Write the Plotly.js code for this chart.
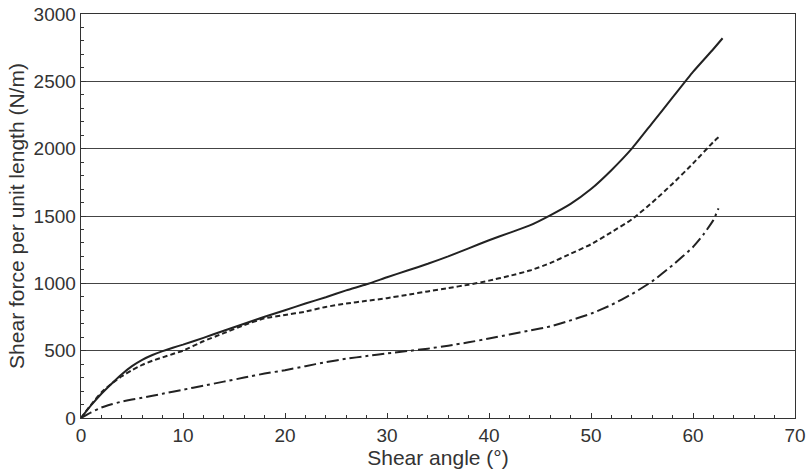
<!DOCTYPE html>
<html>
<head>
<meta charset="utf-8">
<script src="https://cdn.plot.ly/plotly-3.0.1.min.js"></script>
<style>html,body{margin:0;padding:0;background:#fff;}#chart{width:807px;height:469px;}</style>
</head>
<body>
<div id="chart"></div>
<script>
// Shear angle (degrees) and shear force per unit length (N/m)
const solidX = [0,1,2,3,4,5,6,7,8,9,10,12,14,16,18,20,22,24,26,28,30,32,34,36,38,40,42,44,46,48,50,52,54,56,58,60,62,62.9];
const solidY = [0,95,180,255,325,385,432,468,497,522,545,595,648,700,752,800,850,897,948,993,1045,1095,1145,1200,1260,1320,1375,1430,1505,1590,1700,1840,2000,2190,2380,2570,2740,2820];

const dashX = [0,1,2,3,4,5,6,7,8,9,10,12,14,16,18,20,22,24,26,28,30,32,34,36,38,40,42,44,46,48,50,52,54,56,58,60,62,62.5];
const dashY = [0,100,190,255,310,355,395,425,450,475,500,570,630,690,740,765,790,825,850,870,890,915,940,965,990,1020,1055,1095,1150,1220,1290,1380,1475,1600,1740,1890,2050,2084];

const dashDotX = [0,1,2,3,4,5,6,8,10,12,14,16,18,20,22,24,26,28,30,32,34,36,38,40,42,44,46,48,50,52,54,56,58,60,61,62,62.5];
const dashDotY = [0,42,78,102,122,137,150,180,210,240,270,300,330,355,385,415,440,460,480,497,515,537,562,590,620,650,680,725,775,840,920,1015,1135,1270,1360,1470,1557];

const xTickVals = [0,10,20,30,40,50,60,70];
const yTickVals = [0,500,1000,1500,2000,2500,3000];

const lineColor = '#222';
const traces = [
  {x: solidX, y: solidY, mode: 'lines', line: {color: lineColor, width: 2, dash: 'solid', shape: 'spline', smoothing: 0.5}},
  {x: dashX, y: dashY, mode: 'lines', line: {color: lineColor, width: 2, dash: '5px,3px', shape: 'spline', smoothing: 0.5}},
  {x: dashDotX, y: dashDotY, mode: 'lines', line: {color: lineColor, width: 2, dash: '12px,4px,3px,4px', shape: 'spline', smoothing: 0.5}}
];

const tickFont = {family: 'Liberation Sans, Arial, sans-serif', size: 19, color: '#333'};
const titleFont = {family: 'Liberation Sans, Arial, sans-serif', size: 21, color: '#333'};
const layout = {
  width: 807, height: 469,
  margin: {l: 81, r: 12, t: 14, b: 51},
  paper_bgcolor: '#fff', plot_bgcolor: '#fff',
  showlegend: false,
  font: tickFont,
  xaxis: {
    range: [0, 70], tickvals: xTickVals, ticktext: xTickVals.map(String),
    ticks: 'inside', ticklen: 5, tickwidth: 1, tickcolor: '#333',
    minor: {dtick: 2, ticks: 'inside', ticklen: 3, tickcolor: '#333', showgrid: false},
    showline: true, linecolor: '#333', linewidth: 1.3, mirror: true,
    showgrid: false, zeroline: false,
    tickfont: tickFont,
    title: {text: 'Shear angle (°)', font: titleFont, standoff: 0}
  },
  yaxis: {
    range: [0, 3000], tickvals: yTickVals, ticktext: yTickVals.map(String),
    ticks: 'inside', ticklen: 5, tickwidth: 1, tickcolor: '#333',
    minor: {dtick: 100, ticks: 'inside', ticklen: 3, tickcolor: '#333', showgrid: false},
    showline: true, linecolor: '#333', linewidth: 1.3, mirror: true,
    showgrid: true, gridcolor: '#444', gridwidth: 1, zeroline: false,
    tickfont: tickFont,
    title: {text: 'Shear force per unit length (N/m)', font: titleFont, standoff: 3}
  }
};
Plotly.newPlot('chart', traces, layout, {displayModeBar: false, staticPlot: true});
</script>
</body>
</html>
